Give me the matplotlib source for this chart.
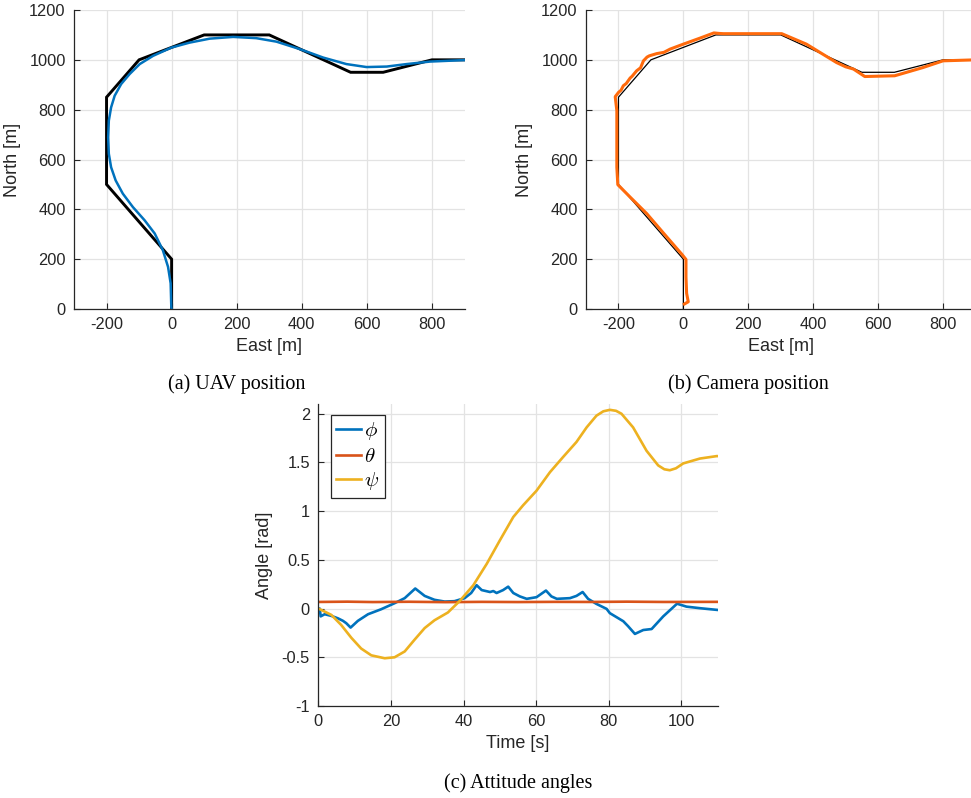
import matplotlib
matplotlib.use("Agg")
import matplotlib.pyplot as plt
import numpy as np

# ---------------- data ----------------
# reference waypoint path (East, North)
ref_east = [0, 0, -200, -200, -100, 100, 300, 550, 650, 800, 900]
ref_north = [0, 200, 500, 850, 1000, 1100, 1100, 950, 950, 1000, 1000]

# UAV flown path
uav_east = [0, -1, -3, -11, -27, -52, -83, -119, -150, -172, -186, -193, -195, -193,
            -186, -175, -155, -129, -98, -57, -1, 55, 117, 189, 260, 322, 394, 466,
            537, 599, 661, 722, 794, 900]
uav_north = [0, 9, 103, 169, 236, 303, 356, 409, 463, 516, 569, 623, 689, 756,
             809, 856, 903, 943, 983, 1016, 1049, 1069, 1085, 1092, 1087, 1073, 1043, 1009,
             983, 971, 973, 983, 993, 999]

# camera position path
cam_east = [3, 15, 10, 8, 8, -5, -51, -113, -164, -202, -205, -205, -205, -210,
            -200, -192, -185, -176, -164, -158, -144, -132, -123, -112, -105, -82, -60,
            -41, 0, 51, 94, 110, 123, 205, 303, 379, 472, 500, 524, 559, 651, 738, 800, 900]
cam_north = [20, 29, 63, 129, 199, 220, 289, 383, 449, 499, 569, 703, 796, 852,
             869, 878, 896, 905, 927, 934, 956, 968, 996, 1011, 1016, 1025, 1030,
             1043, 1063, 1087, 1108, 1106, 1105, 1105, 1105, 1063, 989, 972, 963, 933, 936,
             969, 996, 1000]

# attitude angles
psi_t = [0, 0.4, 3.6, 6.3, 9.1, 11.8, 14.6, 18.3, 21.0, 23.8, 26.5, 29.3, 32.0, 35.7,
         39.0, 42.7, 46.4, 50.0, 53.7, 56.4, 60.1, 63.8, 67.4, 71.1, 73.9, 76.6, 78.5,
         80.3, 82.0, 83.5, 86.7, 90.4, 93.6, 95.3, 96.8, 98.5, 100.5, 105.1, 109.7, 110]
psi = [0.0, -0.006, -0.065, -0.168, -0.30, -0.41, -0.48, -0.51, -0.50, -0.44, -0.32,
       -0.20, -0.12, -0.04, 0.08, 0.24, 0.46, 0.70, 0.94, 1.06, 1.21, 1.40, 1.555, 1.71,
       1.86, 1.98, 2.025, 2.04, 2.03, 2.00, 1.86, 1.62, 1.47, 1.43, 1.42, 1.44, 1.49,
       1.54, 1.565, 1.565]

phi_t = [0, 0.4, 0.65, 1.75, 3.6, 5.4, 6.8, 7.7, 8.9, 10.9, 13.7, 17.3, 21.0, 23.8,
         26.7, 29.3, 32.0, 34.8, 37.5, 40.3, 42.1, 43.6, 45.0, 47.3, 48.2, 49.1, 50.9,
         52.3, 53.7, 55.5, 57.4, 60.1, 62.7, 64.2, 65.7, 69.3, 71.1, 72.8, 74.3, 76.6,
         79.4, 80.3, 84.0, 85.3, 87.2, 89.5, 91.8, 95.0, 98.8, 101.4, 105.1, 109.7, 110]
phi = [0.0, 0.0, -0.08, -0.058, -0.075, -0.10, -0.126, -0.15, -0.195, -0.126, -0.058,
       -0.007, 0.055, 0.107, 0.206, 0.13, 0.09, 0.072, 0.076, 0.107, 0.16, 0.24, 0.19,
       0.17, 0.18, 0.16, 0.19, 0.225, 0.16, 0.125, 0.10, 0.117, 0.185, 0.125, 0.10,
       0.107, 0.13, 0.17, 0.10, 0.048, -0.003, -0.047, -0.13, -0.18, -0.26, -0.22,
       -0.21, -0.08, 0.05, 0.02, 0.004, -0.013, -0.014]

theta_t = [0, 8, 15, 25, 35, 45, 55, 65, 75, 85, 95, 110]
theta = [0.068, 0.071, 0.067, 0.070, 0.066, 0.069, 0.067, 0.069, 0.068, 0.071, 0.068, 0.069]

# ---------------- style ----------------
plt.rcParams['mathtext.fontset'] = 'cm'
plt.rcParams['axes.unicode_minus'] = False
TICK_FS = 11.8
LAB_FS = 13.0
CAP_FS = 14.5
AX_COL = '#262626'
GRID_COL = '#e3e3e3'
BLUE = '#0072BD'
ORANGE = '#D95319'
YELLOW = '#EDB120'
CAM = '#ff6a0c'

W, H = 971, 798
fig = plt.figure(figsize=(W / 100, H / 100), dpi=100)


def frac(left, top, right, bottom):
    return [left / W, 1 - bottom / H, (right - left) / W, (bottom - top) / H]


def style(ax):
    ax.grid(True, color=GRID_COL, linewidth=0.9)
    ax.set_axisbelow(True)
    for s in ['top', 'right']:
        ax.spines[s].set_visible(False)
    for s in ['left', 'bottom']:
        ax.spines[s].set_color(AX_COL)
        ax.spines[s].set_linewidth(0.9)
    ax.tick_params(direction='in', length=4, width=0.8, color=AX_COL,
                   labelcolor=AX_COL, labelsize=TICK_FS, pad=6)
    for lab in ax.get_xticklabels() + ax.get_yticklabels():
        lab.set_family('Liberation Sans')


# (a) UAV position
ax1 = fig.add_axes(frac(74, 10, 464.5, 309))
ax1.plot(ref_east, ref_north, color='black', lw=2.1, solid_joinstyle='miter')
ax1.plot(uav_east, uav_north, color=BLUE, lw=1.8)
ax1.set_xlim(-300, 900)
ax1.set_ylim(0, 1200)
ax1.set_xticks([-200, 0, 200, 400, 600, 800])
ax1.set_yticks(np.arange(0, 1201, 200))
style(ax1)
ax1.set_xlabel('East [m]', fontsize=LAB_FS, color=AX_COL, family='Liberation Sans', labelpad=4)
ax1.set_ylabel('North [m]', fontsize=LAB_FS, color=AX_COL, family='Liberation Sans', labelpad=6)

# (b) Camera position
ax2 = fig.add_axes(frac(586, 10, 975.5, 309))
ax2.plot(ref_east, ref_north, color='black', lw=0.9)
ax2.plot(cam_east, cam_north, color=CAM, lw=2.2)
ax2.set_xlim(-300, 900)
ax2.set_ylim(0, 1200)
ax2.set_xticks([-200, 0, 200, 400, 600, 800])
ax2.set_yticks(np.arange(0, 1201, 200))
style(ax2)
ax2.set_xlabel('East [m]', fontsize=LAB_FS, color=AX_COL, family='Liberation Sans', labelpad=4)
ax2.set_ylabel('North [m]', fontsize=LAB_FS, color=AX_COL, family='Liberation Sans', labelpad=6)

# (c) Attitude angles
ax3 = fig.add_axes(frac(318.3, 404, 717.7, 706))
ax3.plot(phi_t, phi, color=BLUE, lw=1.9, label=r'$\phi$')
ax3.plot(theta_t, theta, color=ORANGE, lw=1.9, label=r'$\theta$')
ax3.plot(psi_t, psi, color=YELLOW, lw=1.9, label=r'$\psi$')
ax3.set_xlim(0, 110)
ax3.set_ylim(-1, 2.1)
ax3.set_xticks([0, 20, 40, 60, 80, 100])
ax3.set_yticks([-1, -0.5, 0, 0.5, 1, 1.5, 2])
ax3.set_yticklabels(['-1', '-0.5', '0', '0.5', '1', '1.5', '2'])
style(ax3)
ax3.set_xlabel('Time [s]', fontsize=LAB_FS, color=AX_COL, family='Liberation Sans', labelpad=4)
ax3.set_ylabel('Angle [rad]', fontsize=LAB_FS, color=AX_COL, family='Liberation Sans', labelpad=6)
leg = ax3.legend(loc='upper left', bbox_to_anchor=(0.032, 0.964), fontsize=15,
                 handlelength=1.2, handletextpad=0.15, borderpad=0.25, labelspacing=0.2,
                 borderaxespad=0, fancybox=False, framealpha=1)
leg.get_frame().set_edgecolor(AX_COL)
leg.get_frame().set_linewidth(0.9)

# captions
fig.text(237 / W, 1 - 384 / H, '(a) UAV position', ha='center', va='center',
         fontsize=CAP_FS, family='Liberation Serif')
fig.text(748 / W, 1 - 384 / H, '(b) Camera position', ha='center', va='center',
         fontsize=CAP_FS, family='Liberation Serif')
fig.text(518 / W, 1 - 783 / H, '(c) Attitude angles', ha='center', va='center',
         fontsize=CAP_FS, family='Liberation Serif')

fig.savefig('out.png', dpi=100)
